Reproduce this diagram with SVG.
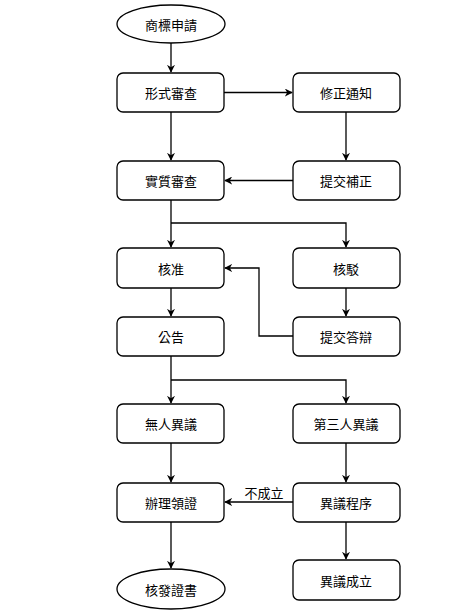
<svg xmlns="http://www.w3.org/2000/svg" width="476" height="615" viewBox="0 0 476 615">
<defs>
<style>
.n{fill:#fff;stroke:#000;stroke-width:1.3}
.t{font-family:"Noto Sans CJK TC","Noto Sans CJK SC",sans-serif;font-size:13px;fill:#000;text-anchor:middle;dominant-baseline:central}
.c{fill:none;stroke:#000;stroke-width:1.3}
</style>
<marker id="a" viewBox="0 0 10 10" refX="9" refY="5" markerWidth="8" markerHeight="8" markerUnits="userSpaceOnUse" orient="auto">
<path d="M0,0 L10,5 L0,10 L3,5 z" fill="#000"/>
</marker>
</defs>
<rect width="476" height="615" fill="#fff"/>
<g id="connectors">
<path class="c" d="M171,43 V72" marker-end="url(#a)"/>
<path class="c" d="M224,92.5 H292" marker-end="url(#a)"/>
<path class="c" d="M171,112 V160" marker-end="url(#a)"/>
<path class="c" d="M346,112 V160" marker-end="url(#a)"/>
<path class="c" d="M293,180.5 H225" marker-end="url(#a)"/>
<path class="c" d="M171,199 V247" marker-end="url(#a)"/>
<path class="c" d="M171,223 H346 V247" marker-end="url(#a)"/>
<path class="c" d="M346,288 V316" marker-end="url(#a)"/>
<path class="c" d="M293,336 H259 V268 H225" marker-end="url(#a)"/>
<path class="c" d="M171,288 V316" marker-end="url(#a)"/>
<path class="c" d="M171,356 V403" marker-end="url(#a)"/>
<path class="c" d="M171,380 H346 V403" marker-end="url(#a)"/>
<path class="c" d="M171,443 V482" marker-end="url(#a)"/>
<path class="c" d="M346,443 V482" marker-end="url(#a)"/>
<path class="c" d="M293,502 H225" marker-end="url(#a)"/>
<text class="t" x="264" y="492">不成立</text>
<path class="c" d="M171,522 V568" marker-end="url(#a)"/>
<path class="c" d="M346,522 V559" marker-end="url(#a)"/>
</g>
<g id="n1"><ellipse class="n" cx="171" cy="24" rx="54" ry="19"/><text class="t" x="171" y="24">商標申請</text></g>
<g id="n2"><rect class="n" x="117" y="73" width="107" height="39" rx="6"/><text class="t" x="171" y="92.5">形式審查</text></g>
<g id="n3"><rect class="n" x="293" y="73" width="107" height="39" rx="6"/><text class="t" x="346" y="92.5">修正通知</text></g>
<g id="n4"><rect class="n" x="117" y="161" width="107" height="39" rx="6"/><text class="t" x="171" y="180.5">實質審查</text></g>
<g id="n5"><rect class="n" x="293" y="161" width="107" height="39" rx="6"/><text class="t" x="346" y="180.5">提交補正</text></g>
<g id="n6"><rect class="n" x="117" y="248" width="107" height="40" rx="6"/><text class="t" x="171" y="268">核准</text></g>
<g id="n7"><rect class="n" x="293" y="248" width="107" height="40" rx="6"/><text class="t" x="346" y="268">核駁</text></g>
<g id="n8"><rect class="n" x="117" y="317" width="107" height="39" rx="6"/><text class="t" x="171" y="336.5">公告</text></g>
<g id="n9"><rect class="n" x="293" y="317" width="107" height="39" rx="6"/><text class="t" x="346" y="336.5">提交答辯</text></g>
<g id="n10"><rect class="n" x="117" y="404" width="107" height="39" rx="6"/><text class="t" x="171" y="423.5">無人異議</text></g>
<g id="n11"><rect class="n" x="293" y="404" width="107" height="39" rx="6"/><text class="t" x="346" y="423.5">第三人異議</text></g>
<g id="n12"><rect class="n" x="117" y="483" width="107" height="39" rx="6"/><text class="t" x="171" y="502.5">辦理領證</text></g>
<g id="n13"><rect class="n" x="293" y="483" width="107" height="39" rx="6"/><text class="t" x="346" y="502.5">異議程序</text></g>
<g id="n14"><ellipse class="n" cx="171" cy="589" rx="54" ry="20"/><text class="t" x="171" y="589">核發證書</text></g>
<g id="n15"><rect class="n" x="293" y="560" width="107" height="40" rx="6"/><text class="t" x="346" y="580">異議成立</text></g>
</svg>
